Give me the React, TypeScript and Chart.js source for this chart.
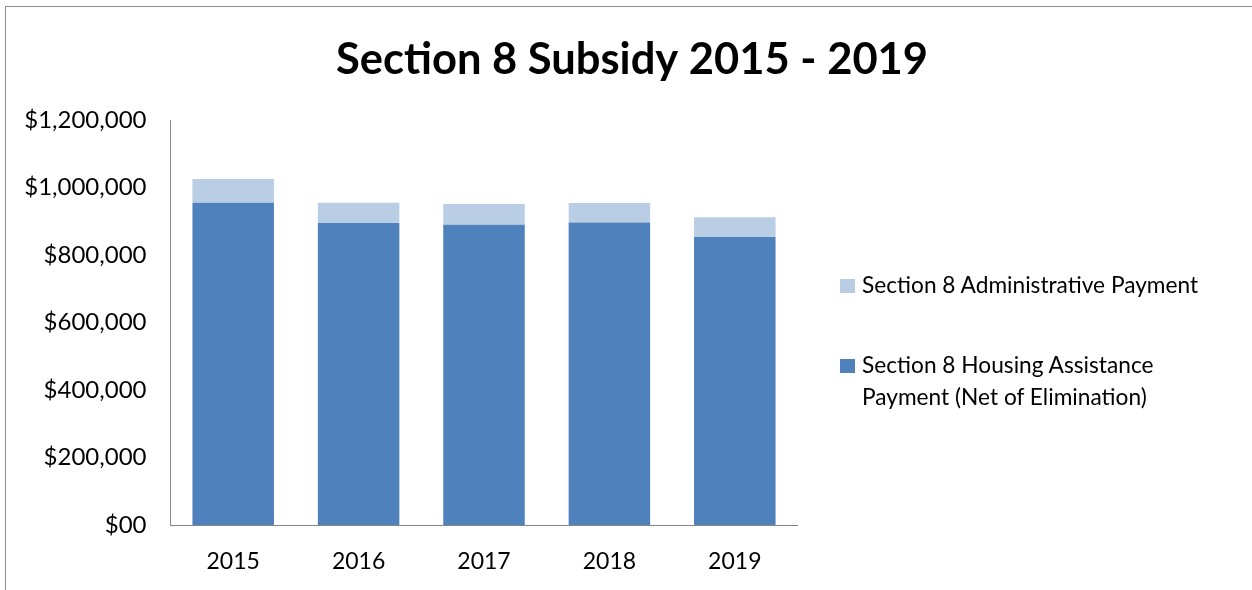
import React, { useEffect, useRef } from "react";
import { Chart, registerables } from "chart.js";

Chart.register(...registerables);

const categories = ["2015", "2016", "2017", "2018", "2019"];
const housingAssistance = [955000, 895000, 890000, 896000, 853000];
const administrative = [70000, 60000, 61000, 58000, 59000];
const yTickValues = [0, 200000, 400000, 600000, 800000, 1000000, 1200000];
const yTickLabels = ["$00", "$200,000", "$400,000", "$600,000", "$800,000", "$1,000,000", "$1,200,000"];
const seriesNames = ["Section 8 Housing Assistance Payment (Net of Elimination)", "Section 8 Administrative Payment"];
const seriesColors = ["#4F81BD", "#B9CDE5"];
const titleText = "Section 8 Subsidy 2015 - 2019";

const FONT = "Lato, 'Open Sans', sans-serif";

export default function App() {
  const canvasRef = useRef<HTMLCanvasElement | null>(null);

  useEffect(() => {
    const canvas = canvasRef.current;
    if (!canvas) return;
    const chart = new Chart(canvas, {
      type: "bar",
      data: {
        labels: categories,
        datasets: [
          {
            label: seriesNames[0],
            data: housingAssistance,
            backgroundColor: seriesColors[0],
            borderWidth: 0,
            barPercentage: 0.65,
            categoryPercentage: 1,
          },
          {
            label: seriesNames[1],
            data: administrative,
            backgroundColor: seriesColors[1],
            borderWidth: 0,
            barPercentage: 0.65,
            categoryPercentage: 1,
          },
        ],
      },
      options: {
        responsive: false,
        animation: false,
        devicePixelRatio: 1,
        layout: { padding: 0 },
        plugins: {
          legend: { display: false },
          tooltip: { enabled: false },
          title: {
            display: true,
            text: titleText,
            color: "#000",
            font: { family: FONT, size: 43.5, weight: "bold" },
            padding: { top: 27, bottom: 33.8 },
          },
        },
        scales: {
          x: {
            stacked: true,
            grid: { display: false, drawTicks: false },
            border: { display: true, color: "#868686", width: 1 },
            ticks: {
              color: "#000",
              font: { family: FONT, size: 23 },
              padding: 23,
              maxRotation: 0,
            },
            afterFit: (scale: any) => {
              scale.height = 65;
            },
          },
          y: {
            stacked: true,
            min: 0,
            max: 1200000,
            grid: { display: false, drawTicks: false },
            border: { display: true, color: "#868686", width: 1 },
            afterBuildTicks: (scale: any) => {
              scale.ticks = yTickValues.map((v) => ({ value: v }));
            },
            ticks: {
              color: "#000",
              font: { family: FONT, size: 24 },
              padding: 24,
              callback: (value: any) => {
                const i = yTickValues.indexOf(Number(value));
                return i >= 0 ? yTickLabels[i] : "";
              },
            },
            afterFit: (scale: any) => {
              scale.width = 164.5;
            },
          },
          legendSpace: {
            type: "linear",
            position: "right",
            display: true,
            grid: { display: false, drawTicks: false },
            border: { display: false },
            ticks: { display: false },
            afterFit: (scale: any) => {
              scale.width = 460.5;
            },
          },
        },
      },
    });
    return () => chart.destroy();
  }, []);

  const legendItems = [
    { name: seriesNames[1], color: seriesColors[1], top: 269 },
    { name: seriesNames[0], color: seriesColors[0], top: 349 },
  ];

  return (
    <div
      style={{
        position: "fixed",
        left: 0,
        top: 0,
        width: 1252,
        height: 590,
        overflow: "hidden",
        background: "#fff",
        fontFamily: FONT,
      }}
    >
      <div
        style={{
          position: "absolute",
          left: 5,
          top: 6,
          width: 1260,
          height: 600,
          borderLeft: "1.5px solid #8a8a8a",
          borderTop: "1.5px solid #8a8a8a",
          boxSizing: "border-box",
        }}
      />
      <canvas
        ref={canvasRef}
        width={1252}
        height={583}
        style={{ position: "absolute", left: 6, top: 7, width: 1252, height: 583 }}
      />
      {legendItems.map((item) => (
        <div
          key={item.name}
          style={{
            position: "absolute",
            left: 840,
            top: item.top,
            display: "flex",
            alignItems: "flex-start",
          }}
        >
          <div
            style={{
              width: 15,
              height: 14,
              background: item.color,
              marginTop: 9.5,
              marginRight: 7,
              flex: "none",
            }}
          />
          <div
            style={{
              fontSize: 22.7,
              lineHeight: "32px",
              color: "#000",
              width: 345,
            }}
          >
            {item.name}
          </div>
        </div>
      ))}
    </div>
  );
}
